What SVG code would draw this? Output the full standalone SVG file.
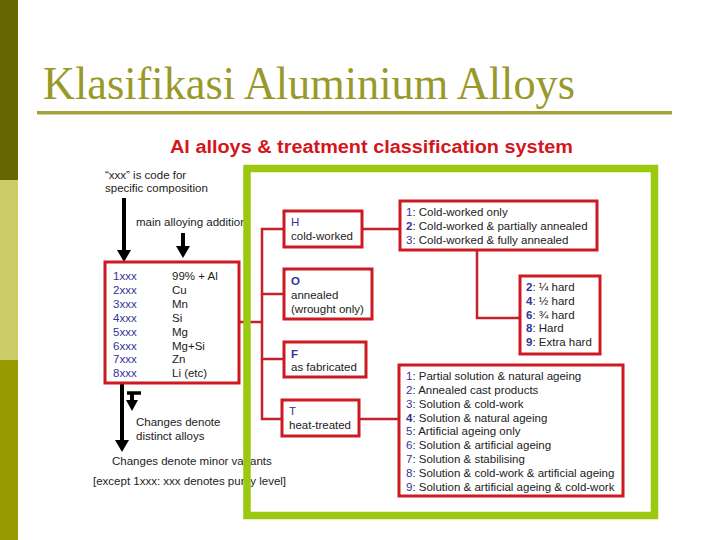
<svg xmlns="http://www.w3.org/2000/svg" width="720" height="540" viewBox="0 0 720 540">
<defs>
<style>
.t{font-family:"Liberation Sans",Arial,sans-serif;font-size:11.5px;fill:#222}
.n{fill:#333399}
.b{font-weight:bold}
.box{fill:#fff;stroke:#cc1a22;stroke-width:3}
.con{fill:none;stroke:#c4222a;stroke-width:2.5}
.arr{stroke:#000;stroke-width:4;fill:none}
.head{fill:#000}
</style>
</defs>
<rect width="720" height="540" fill="#fff"/>
<rect x="0" y="0" width="18" height="180" fill="#666600"/>
<rect x="0" y="180" width="18" height="180" fill="#cccc66"/>
<rect x="0" y="360" width="18" height="180" fill="#999900"/>
<text x="43" y="99" font-family="Liberation Serif,Times New Roman,serif" font-size="46" fill="#99992a" textLength="532" lengthAdjust="spacingAndGlyphs">Klasifikasi Aluminium Alloys</text>
<rect x="37" y="111" width="635" height="3.5" fill="#a3a33a"/>
<text x="170" y="153" font-family="Liberation Sans,Arial,sans-serif" font-size="18" font-weight="bold" fill="#d5151c" textLength="403" lengthAdjust="spacingAndGlyphs">Al alloys &amp; treatment classification system</text>

<g id="left-notes">
<text class="t" x="105" y="179">“xxx” is code for</text>
<text class="t" x="105" y="192">specific composition</text>
<text class="t" x="136" y="226">main alloying addition</text>
<text class="t" x="136" y="426">Changes denote</text>
<text class="t" x="136" y="440">distinct alloys</text>
<text class="t" x="112" y="465">Changes denote minor variants</text>
<text class="t" x="93" y="485">[except 1xxx: xxx denotes purity level]</text>
</g>

<g id="arrows">
<line class="arr" x1="124" y1="198" x2="124" y2="252"/>
<path class="head" d="M117,250 L131,250 L124,262 Z"/>
<line class="arr" x1="183" y1="233" x2="183" y2="248"/>
<path class="head" d="M176,246 L190,246 L183,258 Z"/>
<line class="arr" x1="122" y1="383" x2="122" y2="442"/>
<path class="head" d="M115,440 L129,440 L122,452 Z"/>
<line x1="127" y1="393" x2="141" y2="393" stroke="#000" stroke-width="3.5"/>
<line class="arr" x1="132" y1="393" x2="132" y2="402"/>
<path class="head" d="M126,400 L138,400 L132,411 Z"/>
</g>

<g id="connectors">
<polyline class="con" points="239,322 262,322"/>
<polyline class="con" points="284,229 262,229 262,419 282,419"/>
<line class="con" x1="262" y1="294" x2="284" y2="294"/>
<line class="con" x1="262" y1="359" x2="284" y2="359"/>
<line class="con" x1="362" y1="229" x2="400" y2="229"/>
<polyline class="con" points="477,250 477,318 520,318"/>
<line class="con" x1="359" y1="419" x2="399" y2="419"/>
</g>

<g id="series-box">
<rect class="box" x="105" y="262" width="134" height="121"/>
<text class="t n" x="113" y="280">1xxx</text><text class="t" x="172" y="280">99% + Al</text>
<text class="t n" x="113" y="294">2xxx</text><text class="t" x="172" y="294">Cu</text>
<text class="t n" x="113" y="308">3xxx</text><text class="t" x="172" y="308">Mn</text>
<text class="t n" x="113" y="322">4xxx</text><text class="t" x="172" y="322">Si</text>
<text class="t n" x="113" y="336">5xxx</text><text class="t" x="172" y="336">Mg</text>
<text class="t n" x="113" y="350">6xxx</text><text class="t" x="172" y="350">Mg+Si</text>
<text class="t n" x="113" y="363">7xxx</text><text class="t" x="172" y="363">Zn</text>
<text class="t n" x="113" y="377">8xxx</text><text class="t" x="172" y="377">Li (etc)</text>
</g>

<rect id="frame" x="247" y="168.5" width="407.5" height="347" fill="none" stroke="#9bc90f" stroke-width="7.5"/>

<g id="H">
<rect class="box" x="284" y="211" width="78" height="36"/>
<text class="t n" x="291" y="226">H</text>
<text class="t" x="291" y="240">cold-worked</text>
</g>
<g id="O">
<rect class="box" x="284" y="269" width="88" height="50"/>
<text class="t n b" x="291" y="285">O</text>
<text class="t" x="291" y="299">annealed</text>
<text class="t" x="291" y="313">(wrought only)</text>
</g>
<g id="F">
<rect class="box" x="284" y="342" width="82" height="35"/>
<text class="t n b" x="291" y="358">F</text>
<text class="t" x="291" y="371">as fabricated</text>
</g>
<g id="T">
<rect class="box" x="282" y="400" width="77" height="36"/>
<text class="t n" x="289" y="415">T</text>
<text class="t" x="289" y="429">heat-treated</text>
</g>

<g id="H-sub">
<rect class="box" x="400" y="201" width="197" height="49"/>
<text class="t" x="406" y="216"><tspan class="n">1</tspan>: Cold-worked only</text>
<text class="t" x="406" y="230"><tspan class="n b">2</tspan>: Cold-worked &amp; partially annealed</text>
<text class="t" x="406" y="244"><tspan class="n">3</tspan>: Cold-worked &amp; fully annealed</text>
</g>

<g id="H-hard">
<rect class="box" x="520" y="276" width="80" height="78"/>
<text class="t" x="526" y="291"><tspan class="n b">2</tspan>: ¼ hard</text>
<text class="t" x="526" y="305"><tspan class="n b">4</tspan>: ½ hard</text>
<text class="t" x="526" y="319"><tspan class="n b">6</tspan>: ¾ hard</text>
<text class="t" x="526" y="332"><tspan class="n b">8</tspan>: Hard</text>
<text class="t" x="526" y="346"><tspan class="n b">9</tspan>: Extra hard</text>
</g>

<g id="T-sub">
<rect class="box" x="399" y="365" width="224" height="131"/>
<text class="t" x="406" y="380"><tspan class="n">1</tspan>: Partial solution &amp; natural ageing</text>
<text class="t" x="406" y="394"><tspan class="n">2</tspan>: Annealed cast products</text>
<text class="t" x="406" y="408"><tspan class="n">3</tspan>: Solution &amp; cold-work</text>
<text class="t" x="406" y="422"><tspan class="n b">4</tspan>: Solution &amp; natural ageing</text>
<text class="t" x="406" y="435"><tspan class="n">5</tspan>: Artificial ageing only</text>
<text class="t" x="406" y="449"><tspan class="n">6</tspan>: Solution &amp; artificial ageing</text>
<text class="t" x="406" y="463"><tspan class="n">7</tspan>: Solution &amp; stabilising</text>
<text class="t" x="406" y="477"><tspan class="n">8</tspan>: Solution &amp; cold-work &amp; artificial ageing</text>
<text class="t" x="406" y="491"><tspan class="n">9</tspan>: Solution &amp; artificial ageing &amp; cold-work</text>
</g>
</svg>
